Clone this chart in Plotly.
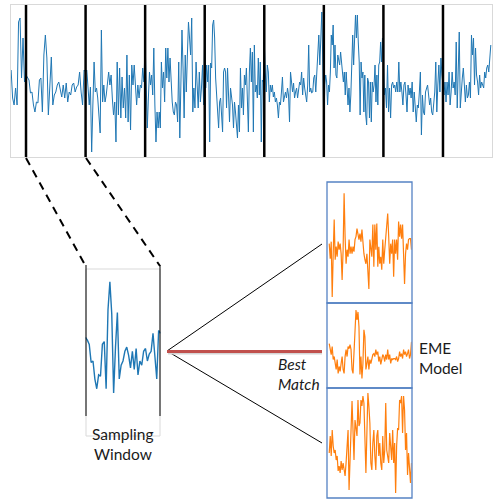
import plotly.graph_objects as go

W, H = 494, 502

# ---------------- data ----------------
# long recording, split into sampling windows (values in arbitrary units)
pre_window = [10, -18, -25, -8, -25, 58, 62, 2, 42, -2]
window_1 = [5, 3, 0, -13, -12, -25, -32, -22, -23, 0, 2, -32, 25, 45, 22, -35, -2, 23, -25, -15,
            -12, -5, -2, -8, -17, -5, -18, -3, -22, -12, -15, -5, -3, -12, -7, -5, 8, -12, -25, 10]
window_2 = [8, 10, -8, -25, -7, -72, -25, 18, -12, -8, -18, -35, -53, 50, -22, -5, -22, -15, -5, 8,
            -5, 5, -18, -35, -22, -62, 18, -35, 12, -38, 3, -28, -8, -38, 25, -42, 5, -50, 15, -5,
            15, -5, -25, -5, -18, -5, -8, 12, -2]
window_3 = [38, -12, -48, -18, 8, -5, 5, -15, 32, -25, -62, -32, -48, -32, -48, 18, -8, 8, -22, 32,
            2, 32, -2, 22, -8, -22, -32, -35, -22, -25, -42, 18, -58, 18, 50, 12, -38, 25, -12, 25,
            58, 42, 25, 62, -32, -8, -28, 18, -5, -28, 8, -22, -8, 15, -25]
window_4 = [48, -8, 15, -2, 15, -62, 17, 12, 55, 60, 42, 2, -18, -38, -48, -22, -18, -35, -52, 8,
            12, 8, -28, 12, -18, -42, -8, -18, -25, -48, -22, -32, -45, -58, -25, -52, 12, -28, -8, -35,
            5, -5, 12, -12, -52, 8, 32, -2, 28, -52, 35, -12, -5, -18, 22, -15, 18, -62, 0, -2]
window_5 = [38, 8, -12, 15, 8, -22, -5, -12, -5, -17, -12, -22, -18, -25, -38, -22, -25, -12, 3, -22,
            -15, -12, -18, -8, -15, -42, 8, -5, -12, -3, -18, -12, -8, -18, -12, -2, -5, 8, -15, 2,
            -8, -15, -22, -5, 35, -12, -8, -13, -12, 2, 5, -12, 8, 25, 45, 15, 48, 68, 15]
window_6 = [-48, -5, 5, -2, -25, -5, -12, 8, 45, 35, 55, 12, 35, 5, 2, 25, 18, 15, 28, 18,
            8, -2, 8, -15, 8, -5, -25, -8, -32, -15, 8, 45, 15, 55, 65, 42, 65, 38, 18, -35,
            18, 2, 8, -32, 5, -35, -45, 2, -2, -38, -2, -42, -2, -12, -5, 15, -22, 5, -25, 15,
            18, 38, 18, 42]
window_7 = [8, -15, -8, -28, 15, -32, -8, -38, -5, -2, -8, -5, -12, -2, -12, 18, -12, -2, -12, -25,
            -5, -2, -15, -32, -5, -15, -8, -18, -2, -32, -12, -25, -42, -25, -28, -12, 8, -55, -15, -32,
            -35, -12, -8, -5, -15, -25, -18, -32, -35, -25, -12, 18, -32, -5, 15, -12, 22, 5]
post_window = [-5, -15, -2, -22, -2, -15, 8, -25, -12, 8, -8, -2, -15, 38, -28, 18, 48, -28, -8, 2,
               12, -12, -22, -5, -18, -15, -2, -18, 45, 25, 42, -5, 32, 5, -2, -15, 5, -8, -2, -5,
               -8, 8, 2, 12, 15, 8, 28, 35]
windows = [window_1, window_2, window_3, window_4, window_5, window_6, window_7]
window_bounds = list(range(len(windows) + 1))      # window edges, in window units
pre_span, post_span = 0.25, 0.82                    # partial windows at both ends

# EME model candidate signals
eme_model_1 = [3, -12, 5, -50, -7, 27, -13, 0, -10, 5, -3, 3, -7, -33, -3, 53, 10, -17, -3, -10,
               7, -7, 0, -7, 0, -5, 7, 10, 18, 12, 7, 13, 5, 17, 0, -7, -13, -17, -7, -20,
               -42, 7, -5, -10, 22, -20, 22, -3, 23, -20, 0, -17, -10, -23, 7, -17, -3, 10, 20, 33,
               10, -17, 3, -7, 7, -30, 7, -7, 7, -13, 25, 10, 22, 8, 22, -7, -37, -7, 3, -3,
               7, 8, 8, -3]
eme_model_2 = [13, 7, 2, 10, -3, 0, -7, -13, -3, -17, -10, -15, -7, 0, -13, -17, 0, 7, 0, 10,
               8, 12, 7, -13, -17, 7, 27, 47, 37, 45, 30, -18, 0, -22, -7, 27, 20, -13, -7, 0,
               -13, -3, -7, -2, 2, 3, 0, 7, 2, 5, -5, 0, -8, -3, 2, 0, -5, 2, -3, 7,
               -3, 2, -7, -2, -3, -2, -2, -3, 0, -5, -2, 5, 0, 3, -2, 7, 2, 5, 0, 3,
               7, -2, 2, 15]
eme_model_3 = [-10, 7, -13, 13, -3, -10, -7, -17, -13, -28, -23, -30, -18, -27, -20, -30, -33, -20, -7, 13,
               -47, 0, 13, 42, 7, -17, 23, 13, 7, 43, 17, 20, 43, 37, 47, 40, -10, -30, 10, 50,
               37, 20, -20, -27, 0, 13, -13, -27, 7, 13, -13, 0, -20, -27, 7, -20, -7, 40, -7, -13,
               -20, 10, -10, -17, 13, -20, 0, -50, -3, 15, 13, 43, 40, 47, 10, 47, 33, -7, 10, -32,
               -10, -33, -40, -20]
eme_models = [eme_model_1, eme_model_2, eme_model_3]

# ---------------- geometry helpers (pixel -> paper) ----------------
def px(x):
    return x / W


def py(y):
    return 1 - y / H


BLUE = "#1f77b4"
ORANGE = "#ff7f0e"
FRAME_BLUE = "#5582c4"
GRAY = "#d9d9d9"
FONT = "Lato"

fig = go.Figure()

# ---- top: full recording ----
top_x, top_y = [], []
n = len(pre_window)
top_x += [-pre_span + pre_span * j / n for j in range(n)]
top_y += pre_window
for k, seg in enumerate(windows):
    n = len(seg)
    top_x += [window_bounds[k] + j / n for j in range(n)]
    top_y += seg
n = len(post_window)
top_x += [window_bounds[-1] + post_span * j / n for j in range(n)]
top_y += post_window

fig.add_trace(go.Scatter(x=top_x, y=top_y, mode="lines", line=dict(color=BLUE, width=1),
                         xaxis="x", yaxis="y", hoverinfo="skip"))

# ---- sampling window: window 1 zoomed ----
sw_y = window_1 + [window_2[0]]
sw_x = [j / len(window_1) for j in range(len(sw_y))]
fig.add_trace(go.Scatter(x=sw_x, y=sw_y, mode="lines", line=dict(color=BLUE, width=1.4),
                         xaxis="x2", yaxis="y2", hoverinfo="skip"))

# ---- EME model panels ----
for i, m in enumerate(eme_models):
    mx = [j / (len(m) - 1) for j in range(len(m))]
    fig.add_trace(go.Scatter(x=mx, y=m, mode="lines", line=dict(color=ORANGE, width=1.2),
                             xaxis=f"x{i + 3}", yaxis=f"y{i + 3}", hoverinfo="skip"))

def axis(domain, rng, line=None, lw=1):
    d = dict(domain=domain, range=rng, showgrid=False, zeroline=False, showticklabels=False,
             ticks="", fixedrange=True)
    if line:
        d.update(showline=True, mirror=True, linecolor=line, linewidth=lw)
    else:
        d.update(showline=False)
    return d

layout = dict(
    width=W, height=H, margin=dict(l=0, r=0, t=0, b=0),
    paper_bgcolor="white", plot_bgcolor="rgba(0,0,0,0)", showlegend=False,
    xaxis=axis([px(11), px(492)], [-pre_span - 0.002, window_bounds[-1] + post_span + 0.003], GRAY),
    yaxis=dict(axis([py(157), py(5)], [-77, 75], GRAY), anchor="x"),
    xaxis2=dict(axis([px(85.5), px(160.5)], [0, 1]), anchor="y2"),
    yaxis2=dict(axis([py(414), py(269)], [-50.2, 54.3]), anchor="x2"),
)
panel_y = [(182, 303), (303, 388), (388, 498)]
panel_rng = [(-56, 64.3), (-31.7, 54), (-55, 55)]
for i, ((ytop, ybot), rng) in enumerate(zip(panel_y, panel_rng)):
    layout[f"xaxis{i + 3}"] = dict(axis([px(328), px(411.5)], [-0.015, 1.0]), anchor=f"y{i + 3}")
    layout[f"yaxis{i + 3}"] = dict(axis([py(ybot), py(ytop)], list(rng)), anchor=f"x{i + 3}")
fig.update_layout(**layout)

shapes = []
# window boundary lines on the recording
for b in window_bounds:
    shapes.append(dict(type="line", xref="x", yref="y domain", x0=b, x1=b, y0=0, y1=1,
                       line=dict(color="black", width=2.5)))
# sampling-window frame and its boundary lines
shapes.append(dict(type="rect", xref="paper", yref="paper", x0=px(86), x1=px(160), y0=py(436), y1=py(269),
                   line=dict(color=GRAY, width=1), layer="below"))
for b in (0, 1):
    shapes.append(dict(type="line", xref="x2", yref="paper", x0=b, x1=b, y0=py(416), y1=py(265),
                       line=dict(color="black", width=2)))
# EME model frames
for ytop, ybot in panel_y:
    shapes.append(dict(type="rect", xref="paper", yref="paper", x0=px(327), x1=px(412),
                       y0=py(ybot), y1=py(ytop), line=dict(color=FRAME_BLUE, width=1.3)))
# dashed zoom connectors
shapes.append(dict(type="line", xref="paper", yref="paper", x0=px(26), y0=py(158), x1=px(85), y1=py(265),
                   line=dict(color="black", width=2, dash="8px,6px")))
shapes.append(dict(type="line", xref="paper", yref="paper", x0=px(86), y0=py(158), x1=px(160), y1=py(266),
                   line=dict(color="black", width=2, dash="8px,6px")))
# comparison fan
shapes.append(dict(type="line", xref="paper", yref="paper", x0=px(167), y0=py(351), x1=px(322), y1=py(244),
                   line=dict(color="black", width=1)))
shapes.append(dict(type="line", xref="paper", yref="paper", x0=px(167), y0=py(351), x1=px(322), y1=py(443),
                   line=dict(color="black", width=1)))
shapes.append(dict(type="line", xref="paper", yref="paper", x0=px(168), y0=py(353.5), x1=px(322), y1=py(353.5),
                   line=dict(color="#d5d5d5", width=2)))
shapes.append(dict(type="line", xref="paper", yref="paper", x0=px(167), y0=py(351.5), x1=px(322), y1=py(351.5),
                   line=dict(color="#c0504d", width=3)))
fig.update_layout(shapes=shapes)

font = dict(family=FONT, size=15.5, color="#1a1a1a")
def label(text, x, y, anchor="center"):
    return dict(text=text, xref="paper", yref="paper", x=px(x), y=py(y), xanchor=anchor,
                yanchor="middle", showarrow=False, font=font, borderpad=0)

fig.update_layout(annotations=[
    label("Sampling", 123, 434),
    label("Window", 123, 454),
    label("<i>Best</i>", 277, 364, "left"),
    label("<i>Match</i>", 277, 384, "left"),
    label("EME", 418, 348, "left"),
    label("Model", 418, 368, "left"),
])

fig.write_html("out.html", config={"displayModeBar": False},
               post_script="document.body.style.margin='0px';document.body.style.overflow='hidden';")
